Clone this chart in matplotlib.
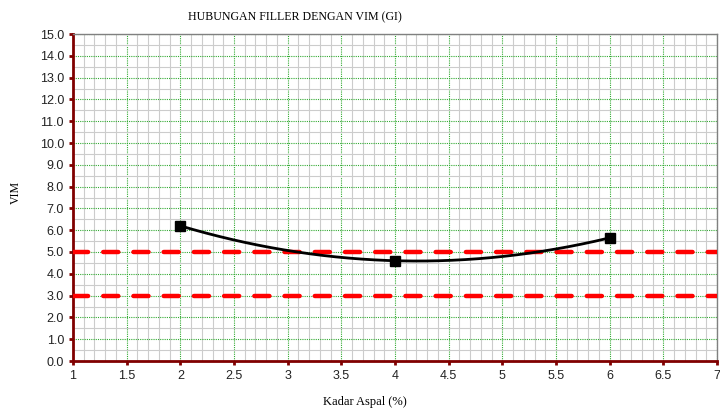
import numpy as np
import matplotlib.pyplot as plt
from matplotlib.ticker import MultipleLocator

# data
kadar = [2, 4, 6]
vim = [6.2, 4.6, 5.65]
batas = [5.0, 3.0]  # spec limits (red dashed)

fig = plt.figure(figsize=(7.2, 4.12), dpi=100)
ax = fig.add_axes([73 / 720, 1 - 361 / 412, 644 / 720, 327 / 412])

# grid
ax.xaxis.set_major_locator(MultipleLocator(0.5))
ax.xaxis.set_minor_locator(MultipleLocator(0.1))
ax.yaxis.set_major_locator(MultipleLocator(1))
ax.yaxis.set_minor_locator(MultipleLocator(0.5))
ax.grid(which='minor', color='#cccccc', lw=0.8, zorder=0)
ax.grid(which='major', color='#33aa33', lw=0.8, ls=(0, (1, 1)), zorder=1)

for b in batas:
    ax.plot([1, 7], [b, b], color='#ff0000', lw=3.2, ls=(0, (3.4, 3.4)),
            solid_capstyle='round', dash_capstyle='round', zorder=3)

# smooth curve through the points
k = np.polyfit(kadar, vim, 2)
xs = np.linspace(min(kadar), max(kadar), 200)
ax.plot(xs, np.polyval(k, xs), color='black', lw=2, zorder=4)
ax.plot(kadar, vim, ls='none', marker='s', ms=7, color='black', zorder=5)

ax.set_xlim(1, 7)
ax.set_ylim(0, 15)
ax.set_yticklabels(['%.1f' % v for v in ax.get_yticks()])
ax.set_xticks(np.arange(1, 7.01, 0.5))
ax.set_xticklabels(['%g' % v for v in np.arange(1, 7.01, 0.5)])

for s in ['left', 'bottom']:
    ax.spines[s].set_color('#800000')
    ax.spines[s].set_linewidth(2)
for s in ['top', 'right']:
    ax.spines[s].set_color('#808080')
    ax.spines[s].set_linewidth(1)

ax.tick_params(which='major', length=3, width=2, color='#800000',
               labelsize=9, labelcolor='#222222')
ax.tick_params(which='minor', length=0)
for lab in ax.get_xticklabels() + ax.get_yticklabels():
    lab.set_family('Liberation Sans')

fig.text(295 / 720, 1 - 17 / 412, 'HUBUNGAN FILLER DENGAN VIM (GI)',
         family='Liberation Serif', fontsize=8.6, ha='center', va='center')
fig.text(365 / 720, 1 - 402 / 412, 'Kadar Aspal (%)',
         family='Liberation Serif', fontsize=9, ha='center', va='center')
fig.text(16 / 720, 1 - 192 / 412, 'VIM', family='Liberation Serif',
         fontsize=8.6, rotation=90, ha='center', va='center')

fig.savefig('out.png', dpi=100)
